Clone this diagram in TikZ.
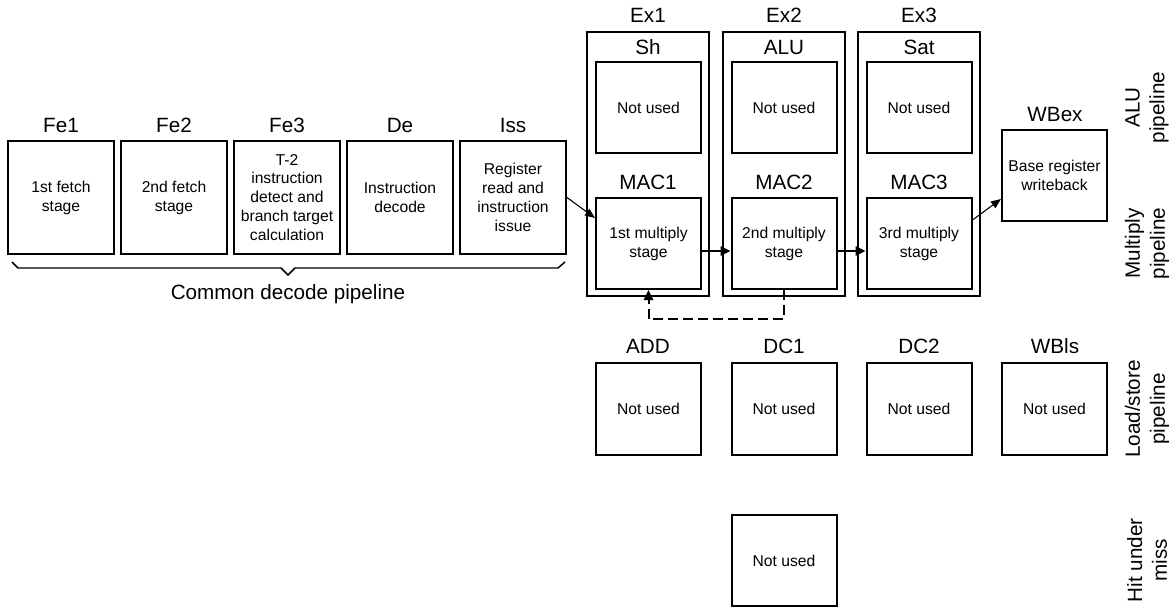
\documentclass[tikz,border=0pt]{standalone}
\usepackage{fontspec}
\setmainfont{Liberation Sans}
\usetikzlibrary{arrows.meta,calc}
\begin{document}
\begin{tikzpicture}[x=0.75pt,y=-0.75pt,
  box/.style={draw,line width=1.5pt,minimum width=78.75pt,minimum height=68.25pt,inner sep=0pt,align=center,font=\fontsize{11.75}{14.2}\selectfont},
  lbox/.style={box,minimum width=79.5pt,minimum height=84.75pt},
  outerbox/.style={draw,line width=1.5pt,minimum width=91.5pt,minimum height=198pt,inner sep=0pt},
  lab/.style={font=\fontsize{15.5}{18.6}\selectfont,inner sep=0pt,text depth=0pt},
  side/.style={font=\fontsize{15.5}{18.6}\selectfont,inner sep=0pt,rotate=90,align=center},
  conn/.style={line width=0.8pt,-{Triangle[length=7.5pt,width=6pt]}},
  mconn/.style={line width=1.2pt,-{Triangle[length=7.5pt,width=7pt]}},
  dconn/.style={line width=1.5pt,dash pattern=on 7.5pt off 3.75pt,-{Triangle[length=7.5pt,width=7pt]}},
]
\useasboundingbox (0,0) rectangle (1173,607);

% Common decode pipeline
\node[lab] (fe1l) at (61,125) {Fe1};
\node[lab] (fe2l) at (174,125) {Fe2};
\node[lab] (fe3l) at (287,125) {Fe3};
\node[lab] (del) at (400,125) {De};
\node[lab] (issl) at (513,125) {Iss};
\node[lbox] (fe1) at (61,197.5) {1st fetch\\stage};
\node[lbox] (fe2) at (174,197.5) {2nd fetch\\stage};
\node[lbox] (fe3) at (287,197.5) {T-2\\instruction\\detect and\\branch target\\calculation};
\node[lbox] (de) at (400,197.5) {Instruction\\decode};
\node[lbox] (iss) at (513,197.5) {Register\\read and\\instruction\\issue};
\draw[line width=1.1pt] (12,262) -- (18,268) -- (281,268) -- (288,275) -- (295,268) -- (558,268) -- (565,262);
\node[lab] (common) at (288,292) {Common decode pipeline};

% Execute columns
\node[outerbox] (ex1box) at (648,164) {};
\node[outerbox] (ex2box) at (784,164) {};
\node[outerbox] (ex3box) at (919,164) {};
\node[lab] (ex1l) at (648,15) {Ex1};
\node[lab] (ex2l) at (784,15) {Ex2};
\node[lab] (ex3l) at (919,15) {Ex3};
\node[lab] (shl) at (648,47) {Sh};
\node[lab] (alul) at (784,47) {ALU};
\node[lab] (satl) at (919,47) {Sat};
\node[box] (sh) at (648.5,107.5) {Not used};
\node[box] (alu) at (784,107.5) {Not used};
\node[box] (sat) at (919,107.5) {Not used};
\node[lab] (mac1l) at (648,182) {MAC1};
\node[lab] (mac2l) at (784,182) {MAC2};
\node[lab] (mac3l) at (919,182) {MAC3};
\node[box] (mac1) at (648.5,243.5) {1st multiply\\stage};
\node[box] (mac2) at (784,243.5) {2nd multiply\\stage};
\node[box] (mac3) at (919,243.5) {3rd multiply\\stage};

% Writeback
\node[lab] (wbexl) at (1055,114) {WBex};
\node[box] (wbex) at (1054.5,175.5) {Base register\\writeback};

% Load/store row
\node[lab] (addl) at (648,346) {ADD};
\node[lab] (dc1l) at (784,346) {DC1};
\node[lab] (dc2l) at (919,346) {DC2};
\node[lab] (wblsl) at (1055,346) {WBls};
\node[box,minimum height=69pt] (add) at (648.5,409) {Not used};
\node[box,minimum height=69pt] (dc1) at (784,409) {Not used};
\node[box,minimum height=69pt] (dc2) at (919,409) {Not used};
\node[box,minimum height=69pt] (wbls) at (1054.5,409) {Not used};

% Hit under miss
\node[box] (hum) at (784,560.5) {Not used};

% Side labels
\node[side] (alup) at (1147,107.5) {ALU\\pipeline};
\node[side] (mulp) at (1147,243.5) {Multiply\\pipeline};
\node[side] (lsp) at (1147,409) {Load/store\\pipeline};
\node[side] (huml) at (1147,560.5) {Hit under\\miss};

% Connectors
\draw[conn] (iss.east) -- ($(mac1.west)+(0,-25.5)$);
\draw[mconn] ($(mac1.east)+(0,7.5)$) -- ($(mac2.west)+(0,7.5)$);
\draw[mconn] ($(mac2.east)+(0,7.5)$) -- ($(mac3.west)+(0,7.5)$);
\draw[conn] ($(mac3.east)+(0,-23.5)$) -- ($(wbex.west)+(0,23.5)$);
\draw[dconn] (mac2.south) -- ++(0,29) -| (mac1.south);
\end{tikzpicture}
\end{document}
